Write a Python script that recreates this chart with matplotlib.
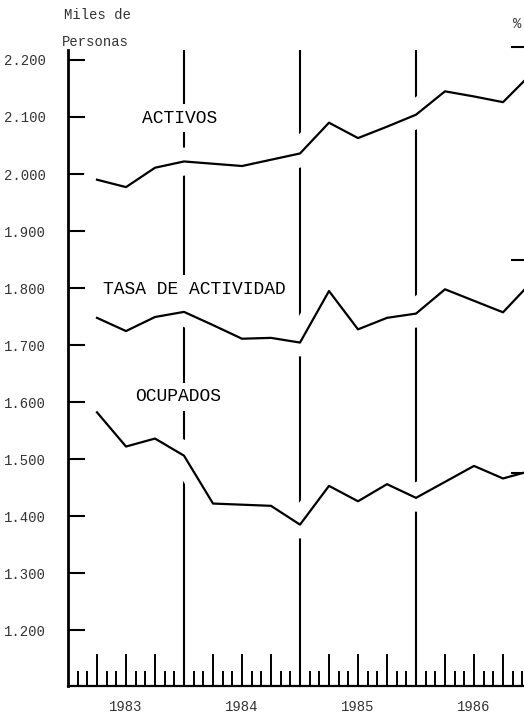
import matplotlib
matplotlib.use('Agg')
import numpy as np
import matplotlib.pyplot as plt
import matplotlib.patheffects as pe
from matplotlib.ticker import FixedLocator, NullFormatter

plt.rcParams['font.family'] = ['Liberation Mono', 'DejaVu Sans Mono']

# data (quarterly, point at end of each quarter)
years = [1983, 1984, 1985, 1986]
activos = [1990, 1977, 2011, 2022, 2018, 2014, 2025, 2036,
           2090, 2063, 2083, 2104, 2145, 2136, 2126, 2177]
ocupados = [1582, 1522, 1536, 1506, 1422, 1420, 1418, 1385,
            1453, 1426, 1456, 1432, 1460, 1488, 1466, 1480]
tasa = [43.64, 43.33, 43.66, 43.78, 43.47, 43.15, 43.17, 43.06,
        44.27, 43.37, 43.64, 43.74, 44.31, 44.04, 43.77, 44.49]
y_ticks = [1200, 1300, 1400, 1500, 1600, 1700, 1800, 1900, 2000, 2100, 2200]
y_labels = ['1.200', '1.300', '1.400', '1.500', '1.600', '1.700',
            '1.800', '1.900', '2.000', '2.100', '2.200']
pct_ticks = [40, 45, 50]

x = [y + (q + 1) / 4 for y in years for q in range(4)]

W, H = 524, 718
fig = plt.figure(figsize=(W / 100, H / 100), dpi=100)
ax = fig.add_axes([68 / W, 32 / H, 464 / W, 640 / H])
ax2 = ax.twinx()

ax.set_xlim(1983, 1987)
ax.set_ylim(1102, 2224.5)
ax2.set_ylim(35, 50.02)

for s in ['top', 'right']:
    ax.spines[s].set_visible(False)
for s in ax2.spines.values():
    s.set_visible(False)
ax.spines['left'].set_linewidth(2.0)
ax.spines['bottom'].set_linewidth(1.6)
ax.spines['left'].set_bounds(1102, 2217)

# year dividers
ax.vlines(years[1:], 1102, 2217, color='black', linewidth=1.5, zorder=1)

gap = [pe.Stroke(linewidth=20, foreground='white'), pe.Normal()]
ax.plot(x, activos, color='black', linewidth=1.6, zorder=2, path_effects=gap)
ax.plot(x, ocupados, color='black', linewidth=1.6, zorder=2, path_effects=gap)
ax2.plot(x, tasa, color='black', linewidth=1.6, zorder=2, path_effects=gap)

# y axis
ax.set_yticks(y_ticks)
ax.set_yticklabels(y_labels)
ax.tick_params(axis='y', direction='in', length=12, width=1.5, pad=16,
               labelsize=10, labelcolor='#333333')

# x axis: quarter and month ticks
months = [years[0] + m / 12 for m in range(1, 48)]
quarter_ticks = [m for i, m in enumerate(months) if (i + 1) % 3 == 0]
ax.xaxis.set_major_locator(FixedLocator(quarter_ticks))
ax.xaxis.set_minor_locator(FixedLocator(months))
ax.xaxis.set_major_formatter(NullFormatter())
ax.tick_params(axis='x', which='major', direction='in', length=23, width=1.4)
ax.tick_params(axis='x', which='minor', direction='in', length=11, width=1.4)
for yr in years:
    ax.text(yr + 0.5, -0.033, str(yr), transform=ax.get_xaxis_transform(),
            ha='center', va='center', fontsize=10, color='#333333')

# right (%) axis
ax2.set_yticks(pct_ticks)
ax2.tick_params(axis='y', direction='in', length=15, width=1.5,
                labelright=False)

# series labels
box = dict(facecolor='white', edgecolor='none', pad=4)
ax2.text(1983.64, 2098, 'ACTIVOS', transform=ax.transData, fontsize=13,
         va='center', ha='left', bbox=box, zorder=5)
ax2.text(1983.30, 1798, 'TASA DE ACTIVIDAD', transform=ax.transData,
         fontsize=13, va='center', ha='left', bbox=box, zorder=5)
ax2.text(1983.58, 1609, 'OCUPADOS', transform=ax.transData, fontsize=13,
         va='center', ha='left', bbox=box, zorder=5)

fig.text(64 / W, 1 - 15 / H, 'Miles de', fontsize=10, va='center',
         ha='left', color='#333333')
fig.text(62 / W, 1 - 42 / H, 'Personas', fontsize=10, va='center',
         ha='left', color='#333333')
fig.text(513 / W, 1 - 24 / H, '%', fontsize=10, va='center', ha='left',
         color='#333333')

fig.savefig('out.png', dpi=100)
